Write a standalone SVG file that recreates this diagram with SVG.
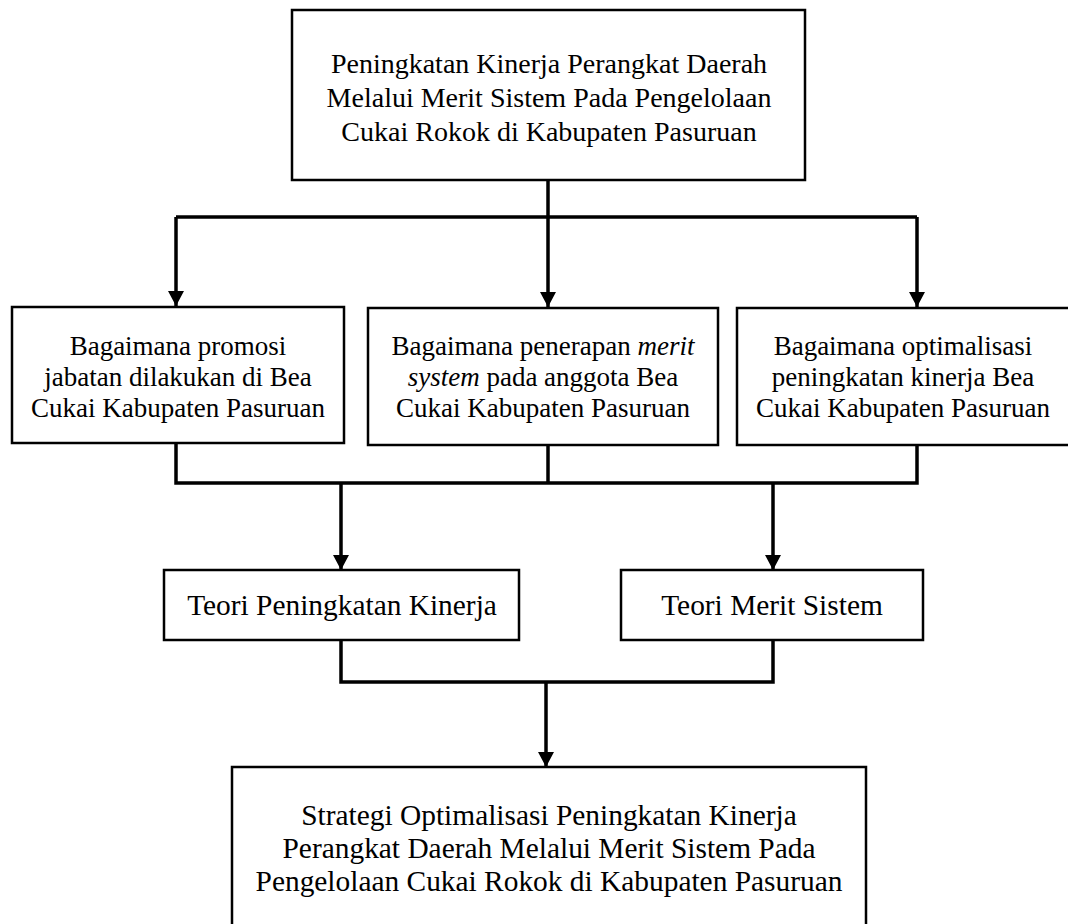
<svg xmlns="http://www.w3.org/2000/svg" width="1068" height="924" viewBox="0 0 1068 924">
<defs>
<style>
.box{fill:#fff;stroke:#000;stroke-width:2.5}
.t{font-family:"Liberation Serif","Times New Roman",serif;font-size:28px;fill:#000;text-anchor:middle}
.m{font-size:27px}
.b{font-size:29.4px}
.c{fill:none;stroke:#000;stroke-width:3.5}
</style>
<marker id="ah" markerUnits="userSpaceOnUse" markerWidth="16" markerHeight="16" refX="15" refY="8" orient="auto" viewBox="0 0 16 16">
<path d="M0,0 L15,8 L0,16 z" fill="#000"/>
</marker>
</defs>
<rect width="1068" height="924" fill="#fff"/>
<g id="connectors">
<line class="c" x1="548" y1="181" x2="548" y2="307" marker-end="url(#ah)"/>
<line class="c" x1="176" y1="217" x2="917" y2="217"/>
<line class="c" x1="176" y1="217" x2="176" y2="306" marker-end="url(#ah)"/>
<line class="c" x1="917" y1="217" x2="917" y2="307" marker-end="url(#ah)"/>
<polyline class="c" points="176,443 176,483 917,483 917,445"/>
<line class="c" x1="548" y1="445" x2="548" y2="483"/>
<line class="c" x1="341" y1="483" x2="341" y2="570" marker-end="url(#ah)"/>
<line class="c" x1="773" y1="483" x2="773" y2="570" marker-end="url(#ah)"/>
<polyline class="c" points="341,640 341,682 773,682 773,640"/>
<line class="c" x1="546" y1="682" x2="546" y2="767" marker-end="url(#ah)"/>
</g>
<g id="top">
<rect class="box" x="292" y="10" width="513" height="170"/>
<text class="t" x="549" y="73">Peningkatan Kinerja Perangkat Daerah</text>
<text class="t" x="549" y="107">Melalui Merit Sistem Pada Pengelolaan</text>
<text class="t" x="549" y="141">Cukai Rokok di Kabupaten Pasuruan</text>
</g>
<g id="q1">
<rect class="box" x="12" y="307" width="332" height="136"/>
<text class="t m" x="178" y="355">Bagaimana promosi</text>
<text class="t m" x="178" y="386">jabatan dilakukan di Bea</text>
<text class="t m" x="178" y="417">Cukai Kabupaten Pasuruan</text>
</g>
<g id="q2">
<rect class="box" x="368" y="308" width="350" height="137"/>
<text class="t m" x="543" y="355">Bagaimana penerapan <tspan font-style="italic">merit</tspan></text>
<text class="t m" x="543" y="386"><tspan font-style="italic">system</tspan> pada anggota Bea</text>
<text class="t m" x="543" y="417">Cukai Kabupaten Pasuruan</text>
</g>
<g id="q3">
<rect class="box" x="737" y="308" width="340" height="137"/>
<text class="t m" x="903" y="355">Bagaimana optimalisasi</text>
<text class="t m" x="903" y="386">peningkatan kinerja Bea</text>
<text class="t m" x="903" y="417">Cukai Kabupaten Pasuruan</text>
</g>
<g id="teori1">
<rect class="box" x="164" y="570" width="355" height="70"/>
<text class="t b" x="342" y="615">Teori Peningkatan Kinerja</text>
</g>
<g id="teori2">
<rect class="box" x="621" y="570" width="302" height="70"/>
<text class="t b" x="772" y="615">Teori Merit Sistem</text>
</g>
<g id="result">
<rect class="box" x="232" y="767" width="634" height="170"/>
<text class="t b" x="549" y="825">Strategi Optimalisasi Peningkatan Kinerja</text>
<text class="t b" x="549" y="858">Perangkat Daerah Melalui Merit Sistem Pada</text>
<text class="t b" x="549" y="891">Pengelolaan Cukai Rokok di Kabupaten Pasuruan</text>
</g>
</svg>
